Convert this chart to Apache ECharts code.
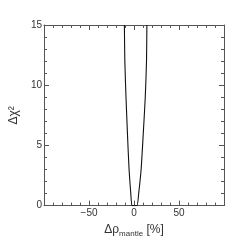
<!DOCTYPE html>
<html><head><meta charset="utf-8">
<script src="https://cdn.jsdelivr.net/npm/echarts@6/dist/echarts.min.js"></script>
<style>html,body{margin:0;padding:0;background:#fff}#c{width:249px;height:243px}</style>
</head><body><div id="c"></div>
<script>
var rhoValues = [-10.7, -10.2, -8.9, -7.3, -5.5, -3.6, -2.2, 0.7, 3.4, 5.2, 7.9, 10.3, 12.5, 13.9, 14.3];
var chi2Values = [15, 12, 9, 6, 3, 1, 0, 0, 0, 1, 3, 6, 9, 12, 15];
var xTicks = [-50, 0, 50];
var yTicks = [0, 5, 10, 15];

var pts = rhoValues.map(function(x, i){ return [x, chi2Values[i]]; });
var axisCol = '#555';
var txtCol = '#333';
var font = 'Liberation Sans, Arial, sans-serif';
function fmtX(v){ if (xTicks.indexOf(v) < 0) return ''; return v < 0 ? '\u2212' + Math.abs(v) : String(v); }
function fmtY(v){ return yTicks.indexOf(v) < 0 ? '' : String(v); }
var chart = echarts.init(document.getElementById('c'), null, {renderer:'canvas'});
function base(){ return {
  axisLine:{show:true, onZero:false, lineStyle:{color:axisCol, width:1}},
  splitLine:{show:false},
  axisTick:{show:true, inside:true, length:5, lineStyle:{color:axisCol}},
  minorTick:{show:true, splitNumber:5, length:3, lineStyle:{color:axisCol}}
}; }
chart.setOption({
  animation:false,
  backgroundColor:'#fff',
  grid:{left:25, right:25, top:25, bottom:25, containLabel:false},
  xAxis:[
    Object.assign(base(), {type:'value', min:-100, max:100, interval:50, position:'bottom',
      axisLabel:{formatter:fmtX, color:txtCol, fontSize:10, fontFamily:font, margin:3},
      name:'{a|\u0394\u03c1}{s|mantle}{a| [%]}', nameLocation:'middle', nameGap:14,
      nameTextStyle:{rich:{a:{fontSize:12, color:txtCol, fontFamily:font}, s:{fontSize:8, color:txtCol, fontFamily:font, padding:[9,0,0,0]}}}
    }),
    Object.assign(base(), {type:'value', min:-100, max:100, interval:50, position:'top',
      axisLabel:{show:false}})
  ],
  yAxis:[
    Object.assign(base(), {type:'value', min:0, max:15, interval:5, position:'left',
      axisLabel:{formatter:fmtY, color:txtCol, fontSize:10, fontFamily:font, margin:2},
      name:'\u0394\u03c7\u00b2', nameLocation:'middle', nameGap:10, nameRotate:90,
      nameTextStyle:{fontSize:12, color:txtCol, fontFamily:font}
    }),
    Object.assign(base(), {type:'value', min:0, max:15, interval:5, position:'right',
      axisLabel:{show:false}})
  ],
  series:[{type:'line', xAxisIndex:0, yAxisIndex:0, data:pts, smooth:0.2, showSymbol:false,
    lineStyle:{color:'#111', width:1.1}, clip:true}]
});
</script></body></html>
